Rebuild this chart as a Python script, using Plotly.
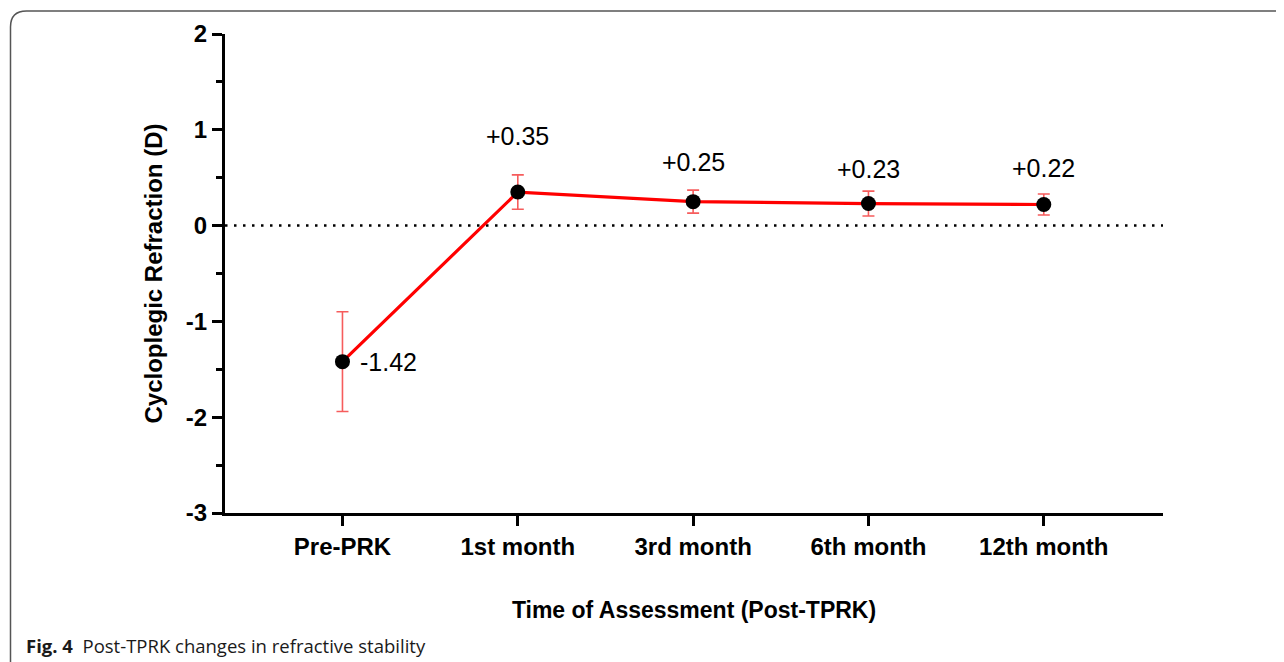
import plotly.graph_objects as go

# ---- data ----
categories = ["Pre-PRK", "1st month", "3rd month", "6th month", "12th month"]
means = [-1.42, 0.35, 0.25, 0.23, 0.22]
errors = [0.52, 0.18, 0.12, 0.13, 0.11]
labels = ["-1.42", "+0.35", "+0.25", "+0.23", "+0.22"]
y_ticks = [2, 1, 0, -1, -2, -3]

# ---- style / layout constants ----
label_yshift = [0, 56, 40, 35, 37]
label_xshift = [16, 0, 0, 0, 0]
label_xanchor = ["left", "center", "center", "center", "center"]

# page body has an 8px margin; figure sized to fit the viewport
OFF = 8
W, H = 1284 - OFF, 662 - OFF
# plot area in page pixels
PL, PR, PT, PB = 225, 1163, 34, 513
L, T = PL - OFF, PT - OFF
R, B = W - (PR - OFF), H - (PB - OFF)
PW, PH = PR - PL, PB - PT


def px(x):  # page pixel -> paper x
    return (x - PL) / PW


def py(y):  # page pixel -> paper y
    return (PB - y) / PH


FONT = "Arial, Liberation Sans, sans-serif"

fig = go.Figure()

# zero reference line (dotted)
fig.add_shape(type="line", xref="paper", yref="y", x0=0, x1=1, y0=0, y1=0,
              line=dict(color="black", width=2.5, dash="2.5px,6.5px"), layer="below")

# error bars (light red)
fig.add_trace(go.Scatter(
    x=categories, y=means, mode="markers",
    marker=dict(size=1, color="rgba(0,0,0,0)"),
    error_y=dict(type="data", array=errors, visible=True, color="#f65c5c",
                 thickness=1.6, width=6),
    showlegend=False, hoverinfo="skip"))

# line + markers
fig.add_trace(go.Scatter(
    x=categories, y=means, mode="lines+markers",
    line=dict(color="#ff0000", width=3.2),
    marker=dict(size=15, color="black"),
    showlegend=False))

for i, c in enumerate(categories):
    fig.add_annotation(x=c, y=means[i], text=labels[i], showarrow=False,
                       xanchor=label_xanchor[i], yanchor="middle",
                       xshift=label_xshift[i], yshift=label_yshift[i],
                       font=dict(family=FONT, size=25, color="black"))

# outer rounded frame
r = 16
lx, ty, rx, by = 10.5, 11, 1320, 700
path = (f"M {px(lx)},{py(by)} L {px(lx)},{py(ty + r)} "
        f"Q {px(lx)},{py(ty)} {px(lx + r)},{py(ty)} "
        f"L {px(rx)},{py(ty)}")
fig.add_shape(type="path", xref="paper", yref="paper", path=path,
              line=dict(color="#555555", width=1.5))

# caption
fig.add_annotation(xref="paper", yref="paper", x=px(24), y=py(645),
                   xanchor="left", yanchor="middle", showarrow=False,
                   text="<b>Fig. 4</b>  Post-TPRK changes in refractive stability",
                   font=dict(family="Open Sans, sans-serif", size=18.5, color="#1a1a1a"))

fig.update_layout(
    width=W, height=H,
    margin=dict(l=L, r=R, t=T, b=B, autoexpand=False),
    paper_bgcolor="white", plot_bgcolor="white",
    font=dict(family=FONT, color="black"),
    xaxis=dict(
        type="category", range=[-0.67, 4.68],
        showline=True, linecolor="black", linewidth=3,
        ticks="outside", ticklen=10, tickwidth=3, tickcolor="black",
        showgrid=False, zeroline=False,
        tickfont=dict(family=FONT, size=24, color="black", weight="bold"),
        title=dict(text="<b>Time of Assessment (Post-TPRK)</b>",
                   font=dict(family=FONT, size=23, color="black"), standoff=44),
    ),
    yaxis=dict(
        range=[-3, 2], tickvals=y_ticks, ticktext=[str(v) for v in y_ticks],
        showline=True, linecolor="black", linewidth=3,
        ticks="outside", ticklen=10, tickwidth=3, tickcolor="black",
        minor=dict(tickvals=[1.5, 0.5, -0.5, -1.5, -2.5], ticks="outside",
                   ticklen=6, tickwidth=3, tickcolor="black", showgrid=False),
        showgrid=False, zeroline=False,
        tickfont=dict(family=FONT, size=24, color="black", weight="bold"),
        title=dict(text="<b>Cycloplegic Refraction (D)</b>",
                   font=dict(family=FONT, size=24, color="black"), standoff=17),
    ),
)

fig.write_html("out.html")
